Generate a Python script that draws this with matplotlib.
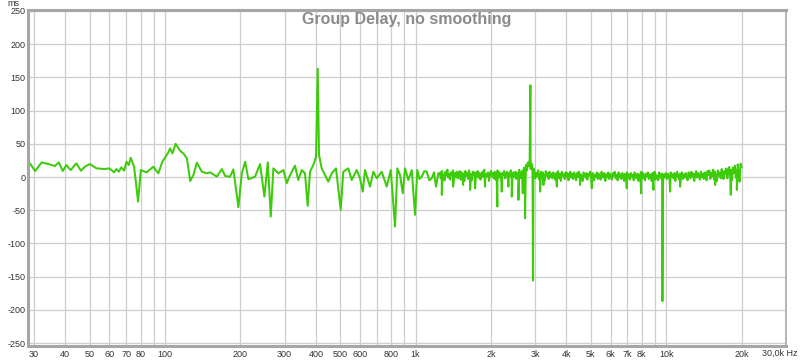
import numpy as np
import matplotlib.pyplot as plt
from matplotlib.ticker import FixedLocator, NullFormatter

plt.rcParams['font.family'] = ['Liberation Sans', 'DejaVu Sans']

# Parte baixa / media do espectro (Hz, ms)
freq_lf = [29, 30.3, 32.2, 34.7, 36.3, 37.7, 39.1, 40.4, 42.0, 44.3, 46.2, 47.9, 50.1,
           53.3, 57.4, 60.1, 62.6, 64.0, 65.4, 67.0, 68.7, 70.2, 71.7, 73.0, 75.3,
           78.1, 80.1, 84.5, 89.8, 94.1, 97.6, 102.6, 104.8, 107.1, 110.3, 114.9,
           118.5, 122.3, 126.1, 129.9, 134.0, 140.4, 146.9, 151.5, 161.1, 168.7,
           173.9, 181.9, 187.5, 196.3, 202.6, 208.9, 215.3, 228.8, 239.6, 249.3,
           257.2, 264.4, 270.8, 283.5, 297.0, 306.1, 313.5, 330.3, 340.5, 351.3,
           362.1, 371.2, 379.2, 390.9, 400.7, 407, 411.9, 422.3, 435.3, 448.7,
           462.9, 481.5, 502.8, 514.9, 539.2, 556.3, 582.5, 600.4, 615.5, 628.7,
           658.2, 678.5, 700.1, 733.0, 767.5, 796.2, 828.3, 846.0, 867.3, 889.1,
           908.0, 935.9, 965.6, 995.4, 1016.6, 1037, 1058.6, 1084, 1108.4, 1135,
           1160.5, 1185, 1207.3, 1233]
delay_lf = [20, 9, 22, 19, 16.5, 22, 9, 18, 10.5, 20.5, 9.5, 15.5, 19.5,
            13, 12, 13, 7, 12, 8, 14.5, 9.5, 23, 18, 29, 15.5,
            -37, 10.5, 7, 15.5, 5.5, 23, 35.5, 43, 35.5, 50, 39.5,
            35.5, 28, -6, 3, 21.5, 8, 5.5, 7, 0.5, 12,
            1.5, 0.5, 11.5, -45.5, 5.5, 23, -3.5, 0.5, 19.5, -29.5,
            22, -59.5, 13, 5.5, 10.5, -9.5, 0.5, 17, -4.5, 10.5,
            5.5, -43.5, 8, 18, 30.5, 163, 33, 13, 3, -7,
            5.5, 13, -49.5, 8, 13, -4.5, 10.5, -2, -22, 10.5,
            -14.5, 8, -2, 8, -14.5, 10.5, -74.5, 13, 3, -24.5,
            13, -4.5, 10.5, -57, 10.5, -3, 0.5, 9, 8, -5,
            -2, 7, -14.5, 5.5]

# Faixa densa de 1,25 kHz a 20 kHz (ms)
band_start, band_stop = 1250, 20000
delay_band = [
    6, -2, 9, 1, 4, -5, 8, 2, 11, -1, 5, -4, 7, 3, 10, -3, 6, 0, 8, -2,
    4, 9, -4, 7, 1, 5, -6, 9, 2, 6, -3, 10, 0, 4, -5, 8, 3, 7, -2, 5,
    9, -1, 6, -4, 3, 8, 0, 11, -3, 5, 2, 7, -6, 4, 9, 1, 6, -2, 8, -4,
    5, 10, -1, 7, 2, -5, 6, 3, 9, -2, 4, 8, -3, 6, 1, 10, -4, 5, 7, 0,
    8, -3, 6, 2, 11, -2, 4, 9, 5, 14, 7, 18, 10, 22, 16, 26, 12, 20, 8, 13,
    9, -2, 6, 1, 10, -4, 5, 8, -1, 7, 3, -5, 9, 2, 6, -3, 8, 0, 5, -2,
    7, 1, -4, 6, 3, 9, -2, 5, -6, 8, 2, 4, -3, 7, 0, 6, -5, 3, 8, -1,
    5, -3, 7, 2, -5, 6, 0, 8, -2, 4, 1, -6, 7, 3, -1, 6, -4, 5, 2, 8,
    -2, 4, 6, -5, 3, 0, 7, -3, 5, 1, -4, 8, 2, -1, 6, -6, 4, 0, 7, -3,
    5, 1, -4, 6, 2, 8, -2, 3, -5, 7, 0, 4, -3, 6, 1, -6, 5, 2, 7, -2,
    4, -4, 6, 0, 3, -5, 7, 1, -2, 5, -6, 4, 2, 8, -3, 6, 0, -5, 5, 1,
    7, -3, 4, 2, -6, 6, 0, 8, -4, 3, 1, -5, 7, 2, -2, 5, -7, 4, 0, 6,
    -3, 5, 2, -5, 7, 1, 4, -2, 6, -6, 3, 8, 0, -4, 5, 2, 7, -3, 4, -1,
    6, 0, -5, 7, 3, -2, 8, 1, 5, -6, 4, 9, -1, 6, 2, -4, 8, 0, 5, -3,
    7, 2, -5, 9, 3, 10, -3, 6, 1, 11, -4, 8, 4, -6, 10, 2, 7, -2, 12, 5,
    -3, 9, 4, 13, -2, 8, 15, 1, 11, -5, 14, 6, 17, -1, 10, 19, 3, -7, 20, 15,
]

# Picos isolados dentro da faixa densa
spike_freq = [1273, 1412, 1548, 1651, 1729, 1894, 2121, 2209, 2347, 2421, 2574, 2679,
              2736, 2873, 2945, 3141, 3240, 3663, 4536, 5052, 6969, 7950, 8904, 9669,
              10377, 11377, 15694, 18127, 19160]
spike_delay = [-27, -14.5, -12, -19.5, -17, -14.5, -44.5, -22, -14.5, -29.5, -34.5, -24.5,
               -62, 138, -156, -22, -12, -14.5, -12, -17, -17, -24.5, -19.5, -187,
               -22, -14.5, -12, -27, -19.5]

x_ticks = [30, 40, 50, 60, 70, 80, 100, 200, 300, 400, 500, 600, 800, 1000,
           2000, 3000, 4000, 5000, 6000, 7000, 8000, 10000, 20000]
x_labels = ['30', '40', '50', '60', '70', '80', '100', '200', '300', '400', '500', '600',
            '800', '1k', '2k', '3k', '4k', '5k', '6k', '7k', '8k', '10k', '20k']
x_minor = [90, 700, 900, 9000]
y_ticks = list(range(-250, 251, 50))

# Montando a curva completa
freq_band = np.geomspace(band_start, band_stop, len(delay_band))
f_all = np.concatenate([freq_lf, freq_band, spike_freq])
d_all = np.concatenate([delay_lf, delay_band, spike_delay])
order = np.argsort(f_all)
f_all, d_all = f_all[order], d_all[order]

fig = plt.figure(figsize=(8, 3.62), dpi=100)
ax = fig.add_axes([28/800, 16/362, 758/800, 336/362])

ax.semilogx(f_all, d_all, color='#3ccc0a', linewidth=1.45)

ax.set_xlim(28.4, 30100)
ax.set_ylim(-254.5, 251.5)

ax.xaxis.set_major_locator(FixedLocator(x_ticks))
ax.set_xticklabels(x_labels)
ax.xaxis.set_minor_locator(FixedLocator(x_minor))
ax.xaxis.set_minor_formatter(NullFormatter())
ax.set_yticks(y_ticks)
ax.set_yticklabels([str(v) for v in y_ticks])

ax.grid(True, which='both', color='#cdcdcd', linewidth=0.9)
ax.tick_params(which='both', length=0, labelsize=6.5, labelcolor='#333333')
ax.tick_params(axis='x', pad=3)
ax.tick_params(axis='y', pad=2)

for side in ['left', 'bottom', 'top']:
    ax.spines[side].set_color('#a6a6a6')
    ax.spines[side].set_linewidth(2.2)
ax.spines['right'].set_color('#b4b4b4')
ax.spines['right'].set_linewidth(1.4)

# Titulo e unidades
ax.text(0.5, 0.995, 'Group Delay, no smoothing', transform=ax.transAxes,
        ha='center', va='top', fontsize=11.5, fontweight='bold', color='#8a8a8a')
fig.text(13/800, 1 - 4/362, 'ms', ha='center', va='center', fontsize=6.5, color='#333333')
fig.text(798/800, 1 - 353/362, '30,0k Hz', ha='right', va='center', fontsize=6.5,
         color='#333333')

plt.savefig('out.png', dpi=100, facecolor='white')
